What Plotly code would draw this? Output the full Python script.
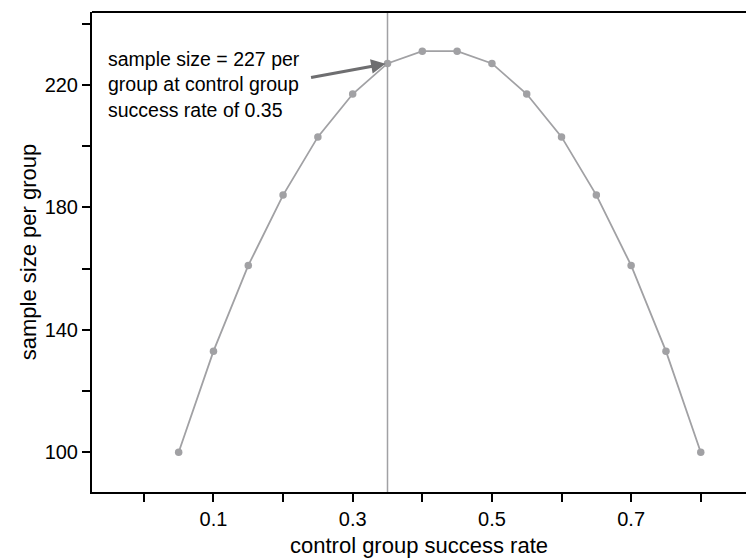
import plotly.graph_objects as go

# Control-group success rate and the required sample size per group
success_rate = [0.05, 0.10, 0.15, 0.20, 0.25, 0.30, 0.35, 0.40,
                0.45, 0.50, 0.55, 0.60, 0.65, 0.70, 0.75, 0.80]
sample_size = [100, 133, 161, 184, 203, 217, 227, 231,
               231, 227, 217, 203, 184, 161, 133, 100]

x_tick_vals = [0.0, 0.1, 0.2, 0.3, 0.4, 0.5, 0.6, 0.7, 0.8]
x_tick_text = ["", "0.1", "", "0.3", "", "0.5", "", "0.7", ""]
y_tick_vals = [100, 120, 140, 160, 180, 200, 220, 240]
y_tick_text = ["100", "", "140", "", "180", "", "220", ""]

highlight_rate = 0.35
highlight_size = 227

line_grey = "#a1a1a4"
font_family = "Liberation Sans, Arial, sans-serif"

fig = go.Figure()

fig.add_trace(go.Scatter(
    x=success_rate, y=sample_size,
    mode="lines+markers",
    line=dict(color=line_grey, width=1.8),
    marker=dict(color=line_grey, size=7.5),
    showlegend=False,
    hoverinfo="skip",
))

# Vertical reference line at the highlighted control rate
fig.add_shape(type="line", xref="x", yref="paper",
              x0=highlight_rate, x1=highlight_rate, y0=0, y1=1,
              line=dict(color=line_grey, width=1.5), layer="below")

# Top border of the plotting area
fig.add_shape(type="line", xref="paper", yref="paper",
              x0=0, x1=1, y0=1, y1=1,
              line=dict(color="black", width=2))

# Arrow pointing at the highlighted point
fig.add_annotation(
    x=highlight_rate, y=highlight_size, xref="x", yref="y",
    ax=0.238, ay=222.3, axref="x", ayref="y",
    text="", showarrow=True, arrowhead=2, arrowsize=0.9,
    arrowwidth=3.2, arrowcolor="#6e6e70", standoff=2,
)

fig.add_annotation(
    x=-0.055, y=220.0, xref="x", yref="y",
    text=f"sample size = {highlight_size} per<br>group at control group<br>success rate of {highlight_rate}",
    showarrow=False, xanchor="left", yanchor="middle", align="left",
    font=dict(family=font_family, size=19.5, color="black"),
)

fig.update_layout(
    width=746, height=560,
    margin=dict(l=92, r=0, t=12, b=68),
    paper_bgcolor="white", plot_bgcolor="white",
    font=dict(family=font_family, size=20, color="black"),
    xaxis=dict(
        range=[-0.0745, 0.865],
        tickvals=x_tick_vals, ticktext=x_tick_text,
        ticks="outside", ticklen=8, tickwidth=1.5, tickcolor="black",
        tickfont=dict(size=20),
        showline=True, linecolor="black", linewidth=2,
        showgrid=False, zeroline=False,
        title=dict(text="control group success rate",
                   font=dict(size=22), standoff=9),
    ),
    yaxis=dict(
        range=[87, 243.8],
        tickvals=y_tick_vals, ticktext=y_tick_text,
        ticks="outside", ticklen=8, tickwidth=1.5, tickcolor="black",
        tickfont=dict(size=20),
        showline=True, linecolor="black", linewidth=2,
        showgrid=False, zeroline=False,
        title=dict(text="sample size per group",
                   font=dict(size=22), standoff=2),
    ),
)

fig.write_html("out.html")
